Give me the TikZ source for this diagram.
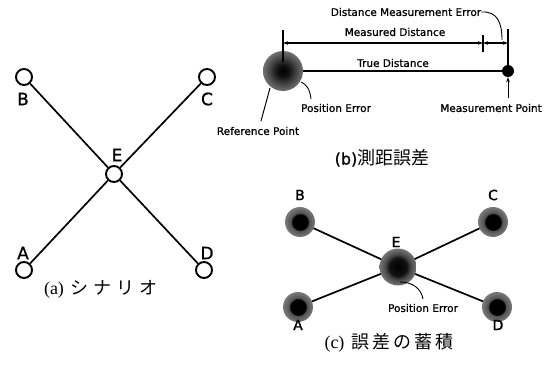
\documentclass[tikz,border=0pt]{standalone}
\usepackage{fontspec}
\newfontfamily\lab[FakeBold=1]{DejaVu Sans}
\newfontfamily\labc[FakeBold=1.5]{DejaVu Sans}
\newfontfamily\jp{Noto Sans CJK JP}
\newfontfamily\ser{Liberation Serif}
\usetikzlibrary{arrows.meta,backgrounds}
\pgfdeclareradialshading{bigfuzz}{\pgfpoint{0bp}{0bp}}{color(0bp)=(black); color(8bp)=(black!92); color(16bp)=(black!74); color(25bp)=(black!56); color(50bp)=(black!56)}
\pgfdeclareradialshading{smallfuzz}{\pgfpoint{0bp}{0bp}}{color(0bp)=(black); color(13bp)=(black); color(15bp)=(black!68); color(25bp)=(black!52); color(50bp)=(black!52)}
\pgfdeclareradialshading{efuzz}{\pgfpoint{0bp}{0bp}}{color(0bp)=(black); color(12bp)=(black!93); color(17bp)=(black!72); color(25bp)=(black!54); color(50bp)=(black!54)}
\begin{document}
\begin{tikzpicture}[x=1pt,y=-1pt,
  acirc/.style={circle,draw,line width=1.9pt,fill=white,minimum size=16pt,inner sep=0pt},
  aline/.style={line width=1.7pt},
  alab/.style={font=\lab\fontsize{17}{17}\selectfont,inner sep=0pt},
  clab/.style={font=\labc\fontsize{14}{14}\selectfont,inner sep=0pt},
  txt/.style={font=\lab\fontsize{10.5}{10.5}\selectfont,inner sep=0pt},
  captxt/.style={inner sep=0pt},
  fz/.style={circle,shade,shading=smallfuzz,minimum size=30pt,inner sep=0pt},
  tip/.style={-{Stealth[length=5pt,width=3.5pt]}},
  dim/.style={line width=1.2pt,{Stealth[length=5pt,width=3.5pt]}-{Stealth[length=5pt,width=3.5pt]}}
]
\useasboundingbox (0,0) rectangle (558,367);

% ---------- (a) ----------
\node[acirc] (B) at (24,77) {};
\node[acirc] (C) at (207,77) {};
\node[acirc] (E) at (114,174) {};
\node[acirc] (A) at (24,270) {};
\node[acirc] (D) at (204,270) {};
\draw[aline] (B) -- (E);
\draw[aline] (C) -- (E);
\draw[aline] (A) -- (E);
\draw[aline] (D) -- (E);
\node[alab] (lB) at (23,99) {B};
\node[alab] (lC) at (207,99) {C};
\node[alab] (lE) at (117,155) {E};
\node[alab] (lA) at (23,253) {A};
\node[alab] (lD) at (207,253) {D};
\node[captxt] (capa) at (101,289) {{\ser\fontsize{18}{18}\selectfont (a)}\hspace{7pt}{\jp\fontsize{18}{18}\selectfont シ\hspace{5pt}ナ\hspace{5pt}リ\hspace{5pt}オ}};

% ---------- (b) ----------
\node[circle,shade,shading=bigfuzz,minimum size=40pt,inner sep=0pt] (ref) at (283,71) {};
\node[circle,fill=black,minimum size=12pt,inner sep=0pt] (mp) at (508,71) {};
\draw[line width=1.4pt] (ref) -- (mp);
\coordinate (x0) at (283,30);
\coordinate (x0b) at (283,62);
\coordinate (x2) at (508,29);
\draw[line width=1.2pt] (x0) -- (x0b);
\draw[line width=1.2pt] (x2) -- (mp);
\coordinate (t0) at (483,35);
\coordinate (t1) at (483,52);
\draw[line width=1.1pt] (t0) -- (t1);
\coordinate (d0) at (283,43);
\coordinate (d1) at (483,43);
\coordinate (d2) at (508,43);
\draw[dim] (d0) -- (d1);
\draw[dim] (d1) -- (d2);
\node[txt] (td) at (393,63) {True Distance};
\node[txt] (md) at (395,32) {Measured Distance};
\node[txt] (dme) at (406,12) {Distance Measurement Error};
\coordinate (dmeEnd) at (502,40);
\draw[line width=0.9pt] (dme.east) .. controls (497,11) and (502,22) .. (dmeEnd);
\node[txt] (pe) at (336,108) {Position Error};
\coordinate (peEnd) at (301,82);
\draw[line width=0.9pt] (311,99) .. controls (310,89) and (306,84) .. (peEnd);
\node[txt] (rp) at (258,131) {Reference Point};
\coordinate (rpEnd) at (270,88);
\draw[line width=1pt] (261,121) -- (rpEnd);
\node[txt] (mpt) at (491,108) {Measurement Point};
\coordinate (mpa) at (508,98);
\draw[line width=1pt,tip] (mpa) -- (mp.south);
\node[captxt] (capb) at (382,158) {{\lab\fontsize{16}{16}\selectfont (b)}{\jp\fontsize{18}{18}\selectfont 測距誤差}};

% ---------- (c) ----------
\node[fz] (cB) at (300,222) {};
\node[fz] (cC) at (493,222) {};
\node[circle,shade,shading=efuzz,minimum size=37pt,inner sep=0pt] (cE) at (398,267) {};
\node[fz] (cA) at (298,307) {};
\node[fz] (cD) at (497,307) {};
\begin{scope}[on background layer]
\draw[line width=1.7pt] (cB.center) -- (cE.center);
\draw[line width=1.7pt] (cC.center) -- (cE.center);
\draw[line width=1.7pt] (cA.center) -- (cE.center);
\draw[line width=1.7pt] (cD.center) -- (cE.center);
\end{scope}
\node[clab] (lcB) at (300,195) {B};
\node[clab] (lcC) at (493,195) {C};
\node[clab] (lcE) at (396,242) {E};
\node[clab] (lcA) at (298,325) {A};
\node[clab] (lcD) at (498,325) {D};
\node[txt] (pe2) at (423,308) {Position Error};
\coordinate (pe2s) at (400,282);
\draw[line width=0.9pt] (pe2s) .. controls (412,282) and (421,288) .. (423,299);
\node[captxt] (capc) at (389,343) {{\ser\fontsize{18}{18}\selectfont (c)}\hspace{7pt}{\jp\fontsize{18}{18}\selectfont 誤\hspace{3pt}差\hspace{3pt}の\hspace{3pt}蓄\hspace{3pt}積}};
\end{tikzpicture}
\end{document}
